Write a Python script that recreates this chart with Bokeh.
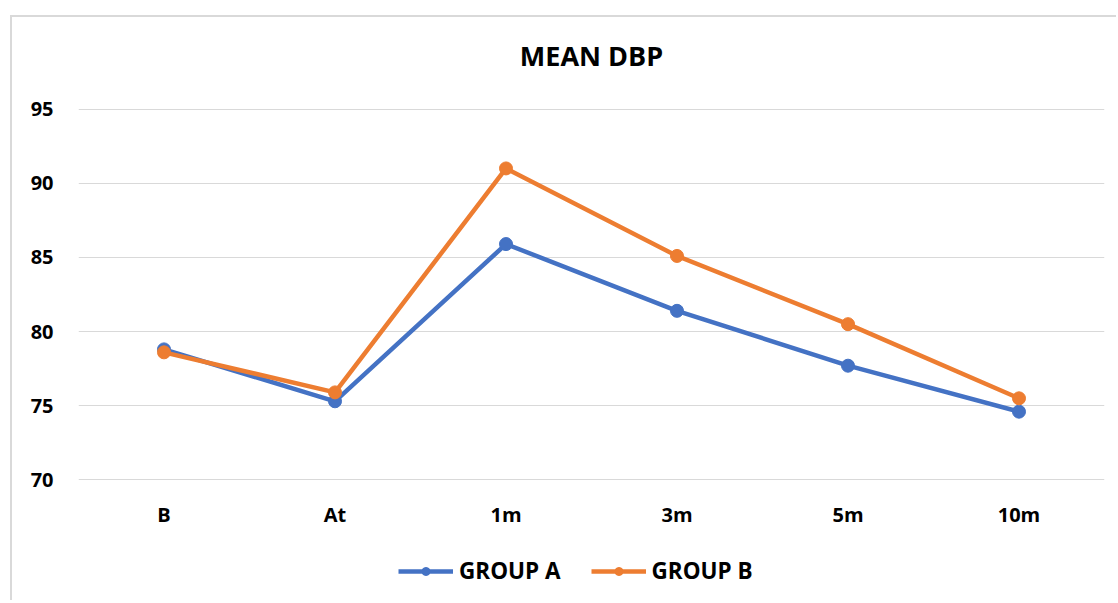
from bokeh.plotting import figure
from bokeh.layouts import column
from bokeh.models import Range1d, FactorRange, Legend, LegendItem, Title
from bokeh.embed import file_html
from bokeh.resources import INLINE

categories = ["B", "At", "1m", "3m", "5m", "10m"]
group_a = [78.8, 75.3, 85.9, 81.4, 77.7, 74.6]
group_b = [78.6, 75.9, 91.0, 85.1, 80.5, 75.5]
y_ticks = [70, 75, 80, 85, 90, 95]
series_names = ["GROUP A", "GROUP B"]
chart_title = "MEAN DBP"

BLUE = "#4472C4"
ORANGE = "#ED7D31"
FONT = "Open Sans"

p = figure(frame_width=1026, frame_height=372, x_range=FactorRange(*categories),
           y_range=Range1d(y_ticks[0] - 0.04, y_ticks[-1] + 0.04),
           output_backend="svg", toolbar_location=None,
           min_border_left=66, min_border_right=12, min_border_top=91, min_border_bottom=50,
           title=None)

# spacer between title and plot area (closest to the frame), then the title
p.add_layout(Title(text=" ", text_font_size="1px", standoff=27), "above")
p.add_layout(Title(text=chart_title, align="center", text_font=FONT, text_font_size="27px",
                   text_font_style="bold", text_color="black", standoff=10, offset=0), "above")

p.outline_line_color = None
p.xgrid.grid_line_color = None
p.ygrid.grid_line_color = "#d9d9d9"
p.ygrid.grid_line_width = 1
p.yaxis.ticker = y_ticks

for ax in (p.xaxis[0], p.yaxis[0]):
    ax.axis_line_color = None
    ax.major_tick_line_color = None
    ax.minor_tick_line_color = None
    ax.major_label_text_font = FONT
    ax.major_label_text_font_size = "20px"
    ax.major_label_text_font_style = "bold"
    ax.major_label_text_color = "black"
p.yaxis.major_label_standoff = 19
p.xaxis.major_label_standoff = 14

for vals, color in ((group_a, BLUE), (group_b, ORANGE)):
    p.line(categories, vals, line_color=color, line_width=4.5)
    p.scatter(categories, vals, size=13, fill_color=color, line_color=color)

# legend strip below the chart
lf = figure(width=1104, height=70, x_range=p.x_range, y_range=p.y_range,
            output_backend="svg", toolbar_location=None,
            x_axis_type=None, y_axis_type=None, min_border=0)
lf.outline_line_color = None
lf.xgrid.grid_line_color = None
lf.ygrid.grid_line_color = None
items = []
for name, vals, color in ((series_names[0], group_a, BLUE), (series_names[1], group_b, ORANGE)):
    r1 = lf.line(categories, vals, line_color=color, line_width=4.5, visible=False)
    r2 = lf.scatter(categories, vals, size=13, fill_color=color, line_color=color, visible=False)
    items.append(LegendItem(label=name, renderers=[r1, r2]))

legend = Legend(items=items, orientation="horizontal", location=(320, 14),
                label_text_font=FONT, label_text_font_size="22.5px", label_text_font_style="bold",
                label_text_color="black", glyph_width=55, glyph_height=20,
                spacing=30, border_line_color=None, background_fill_alpha=0,
                margin=0, padding=0, label_standoff=6, inactive_fill_alpha=0)
lf.add_layout(legend)

layout = column(p, lf, spacing=0, margin=(15, 0, 0, 10),
                styles={"border-top": "2px solid #d9d9d9", "border-left": "2px solid #d9d9d9"})

open("out.html", "w").write(file_html(layout, INLINE))
